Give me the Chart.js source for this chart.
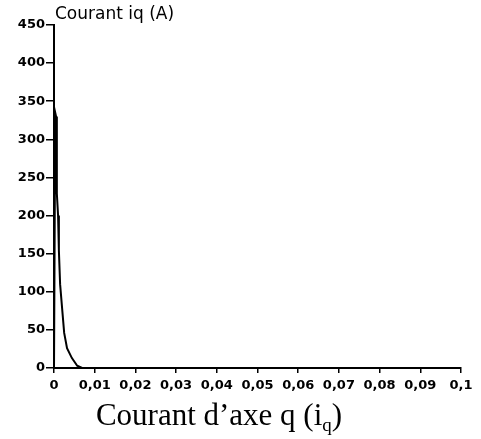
<!DOCTYPE html>
<html>
<head>
<meta charset="utf-8">
<script src="https://cdn.jsdelivr.net/npm/chart.js@4"></script>
<style>
  html, body { margin: 0; padding: 0; background: #fff; }
  #wrap { position: relative; width: 481px; height: 439px; overflow: hidden; }
  #iqChart { position: absolute; left: 0; top: 0; }
  #caption {
    position: absolute; left: 0; width: 438px; top: 399px;
    text-align: center;
    font-family: "Liberation Serif", "Times New Roman", serif;
    font-size: 31px; line-height: 31px; color: #000; white-space: nowrap;
  }
  #caption sub { font-size: 19px; vertical-align: -6px; line-height: 0; }
</style>
</head>
<body>
<div id="wrap">
  <canvas id="iqChart" width="481" height="439"></canvas>
  <div id="caption">Courant d’axe q (i<sub>q</sub>)</div>
</div>
<script>
// ---------- Data ----------

// time (s) and q-axis current (A)
const timeS    = [0, 0.0003, 0.0005, 0.0007, 0.0010, 0.0012, 0.0015, 0.0020, 0.0025, 0.0032, 0.0044, 0.0057, 0.0069, 0.1];
const currentA = [0, 335,    330,    229,    200,    154,    110,    78,     46,     26,     13,     3,      0,      0];

const xTickValues = [0, 0.01, 0.02, 0.03, 0.04, 0.05, 0.06, 0.07, 0.08, 0.09, 0.1];
const xTickLabels = ['0', '0,01', '0,02', '0,03', '0,04', '0,05', '0,06', '0,07', '0,08', '0,09', '0,1'];
const yTickValues = [0, 50, 100, 150, 200, 250, 300, 350, 400, 450];

const yTitle = 'Courant iq (A)';

// ---------- Helpers ----------

const tickFont = { family: '"DejaVu Sans", sans-serif', size: 13, weight: 'bold' };

// axis title drawn at the top of the y axis
const yTitlePlugin = {
  id: 'yTitle',
  afterDraw(chart) {
    const ctx = chart.ctx;
    ctx.save();
    ctx.font = '17px "DejaVu Sans", sans-serif';
    ctx.fillStyle = '#000';
    ctx.textBaseline = 'middle';
    ctx.textAlign = 'left';
    ctx.fillText(yTitle, chart.chartArea.left + 1, 15);
    ctx.restore();
  }
};

// ---------- Chart ----------

function initChart() {
  const ctx = document.getElementById('iqChart').getContext('2d');
  return new Chart(ctx, {
    type: 'line',
    data: {
      datasets: [{
        data: timeS.map((t, i) => ({ x: t, y: currentA[i] })),
        borderColor: '#000',
        borderWidth: 2,
        pointRadius: 0,
        tension: 0,
        fill: false
      }]
    },
    options: {
      responsive: false,
      animation: false,
      layout: { padding: { top: 25, right: 20, bottom: 41, left: 0 } },
      plugins: {
        legend: { display: false },
        tooltip: { enabled: false }
      },
      scales: {
        x: {
          type: 'linear',
          min: 0,
          max: 0.1,
          afterBuildTicks: (scale) => { scale.ticks = xTickValues.map((v) => ({ value: v })); },
          afterFit: (scale) => { scale.height = 30; },
          ticks: {
            color: '#000',
            font: tickFont,
            padding: 5,
            maxRotation: 0,
            autoSkip: false,
            callback: (value, index) => xTickLabels[index]
          },
          grid: { drawOnChartArea: false, drawTicks: true, tickLength: 5, color: '#000', lineWidth: 1.5 },
          border: { display: true, color: '#000', width: 2 }
        },
        y: {
          min: 0,
          max: 450,
          afterBuildTicks: (scale) => { scale.ticks = yTickValues.map((v) => ({ value: v })); },
          afterFit: (scale) => { scale.width = 54; },
          ticks: {
            color: '#000',
            font: tickFont,
            padding: 1,
            autoSkip: false
          },
          grid: { drawOnChartArea: false, drawTicks: true, tickLength: 8, color: '#000', lineWidth: 1.5 },
          border: { display: true, color: '#000', width: 2 }
        }
      }
    },
    plugins: [yTitlePlugin]
  });
}

document.addEventListener('DOMContentLoaded', initChart);
</script>
</body>
</html>
